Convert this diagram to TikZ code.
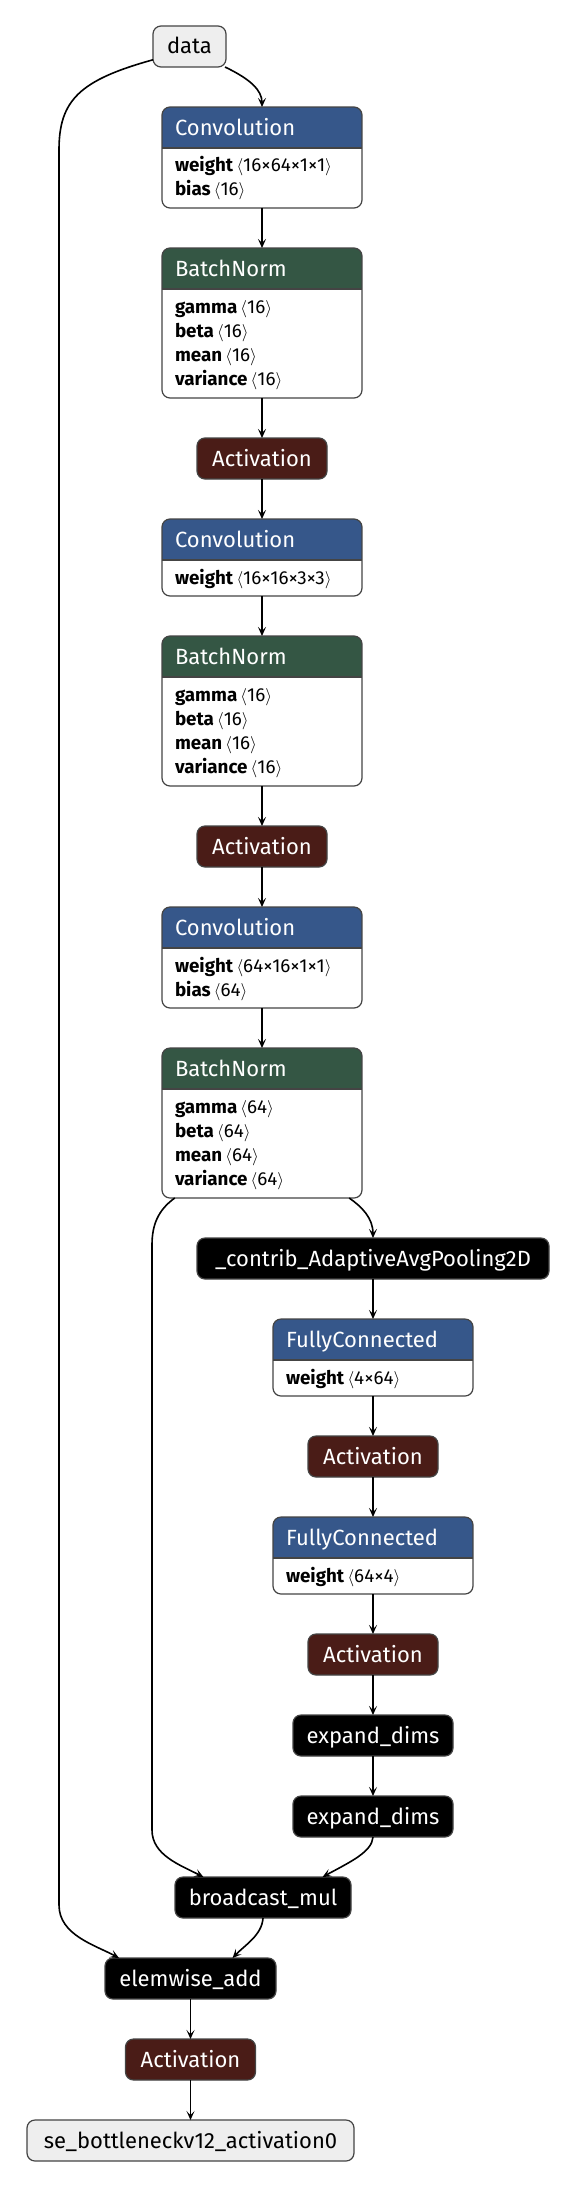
\documentclass[tikz,border=0pt]{standalone}
\usepackage{fontspec}
\setmainfont{Fira Sans}
\usetikzlibrary{arrows.meta}
\usetikzlibrary{positioning}
\usetikzlibrary{backgrounds}

\definecolor{convBlue}{HTML}{36578A}
\definecolor{normGreen}{HTML}{345644}
\definecolor{actRed}{HTML}{4A1C17}
\definecolor{frameGrey}{HTML}{444444}
\definecolor{dataGrey}{HTML}{EEEEEE}

\newcommand{\opParam}[2]{\textbf{#1}\,$\langle$#2$\rangle$}
\newcommand{\firstRow}{\rule{0pt}{17pt}}
\newcommand{\lastRow}{\rule[-5pt]{0pt}{5pt}}

\tikzset{
	op/.style = {rectangle, rounded corners = 8pt, draw = frameGrey, line width = 1.2pt,
		minimum height = 41pt, minimum width = #1, inner sep = 0pt, outer sep = 0pt,
		text height = 15pt, text depth = 0pt, font = \fontsize{22}{24}\selectfont},
	opPlain/.style = {op = #1, fill = black, text = white},
	opAct/.style = {op = 130pt, fill = actRed, text = white},
	opData/.style = {op = #1, fill = dataGrey, text = black},
	recHead/.style = {rectangle, minimum width = 200pt, minimum height = 41pt, text width = 174pt,
		inner xsep = 13pt, inner ysep = 0pt, outer sep = 0pt, align = left, text = white,
		text height = 16pt, text depth = 0pt, font = \fontsize{22}{24}\selectfont},
	recBody/.style = {rectangle, minimum width = 200pt, minimum height = #1, text width = 174pt,
		inner xsep = 13pt, inner ysep = 0pt, outer sep = 0pt, align = left,
		font = \fontsize{18.8}{24}\selectfont},
	frame/.style = {draw = frameGrey, line width = 1.2pt, rounded corners = 8pt},
	link/.style = {-{Stealth[length = 9pt, width = 8pt, inset = 4pt]}, line width = 1.6pt},
}

\begin{document}
\begin{tikzpicture}[x = 1pt, y = -1pt]

	\useasboundingbox (0,0) rectangle (576,2186);

	% main branch
	\node [opData = 73pt] (data) at (189.5,46.5) {data};
	\node [recHead, below = 40pt of data, xshift = 72.5pt] (conv1-head) {Convolution};
	\node [recBody = 60pt, below = 0pt of conv1-head] (conv1)
		{\firstRow\opParam{weight}{16×64×1×1}\\\opParam{bias}{16}\lastRow};
	\node [recHead, below = 40pt of conv1] (bn1-head) {BatchNorm};
	\node [recBody = 109pt, below = 0pt of bn1-head] (bn1)
		{\firstRow\opParam{gamma}{16}\\\opParam{beta}{16}\\\opParam{mean}{16}\\\opParam{variance}{16}\lastRow};
	\node [opAct, below = 40pt of bn1] (act1) {Activation};
	\node [recHead, below = 40pt of act1] (conv2-head) {Convolution};
	\node [recBody = 36pt, below = 0pt of conv2-head] (conv2)
		{\firstRow\opParam{weight}{16×16×3×3}\lastRow};
	\node [recHead, below = 40pt of conv2] (bn2-head) {BatchNorm};
	\node [recBody = 109pt, below = 0pt of bn2-head] (bn2)
		{\firstRow\opParam{gamma}{16}\\\opParam{beta}{16}\\\opParam{mean}{16}\\\opParam{variance}{16}\lastRow};
	\node [opAct, below = 40pt of bn2] (act2) {Activation};
	\node [recHead, below = 40pt of act2] (conv3-head) {Convolution};
	\node [recBody = 60pt, below = 0pt of conv3-head] (conv3)
		{\firstRow\opParam{weight}{64×16×1×1}\\\opParam{bias}{64}\lastRow};
	\node [recHead, below = 40pt of conv3] (bn3-head) {BatchNorm};
	\node [recBody = 109pt, below = 0pt of bn3-head] (bn3)
		{\firstRow\opParam{gamma}{64}\\\opParam{beta}{64}\\\opParam{mean}{64}\\\opParam{variance}{64}\lastRow};

	% squeeze and excite branch
	\node [opPlain = 352pt, below = 40pt of bn3, xshift = 111pt] (pool) {\_contrib\_AdaptiveAvgPooling2D};
	\node [recHead, below = 40pt of pool] (fc1-head) {FullyConnected};
	\node [recBody = 36pt, below = 0pt of fc1-head] (fc1) {\firstRow\opParam{weight}{4×64}\lastRow};
	\node [opAct, below = 40pt of fc1] (act3) {Activation};
	\node [recHead, below = 40pt of act3] (fc2-head) {FullyConnected};
	\node [recBody = 36pt, below = 0pt of fc2-head] (fc2) {\firstRow\opParam{weight}{64×4}\lastRow};
	\node [opAct, below = 40pt of fc2] (act4) {Activation};
	\node [opPlain = 160pt, below = 40pt of act4] (expand1) {expand\_dims};
	\node [opPlain = 160pt, below = 40pt of expand1] (expand2) {expand\_dims};

	% merge
	\node [opPlain = 176pt, below = 40pt of expand2, xshift = -110pt] (bcast) {broadcast\_mul};
	\node [opPlain = 171pt, below = 40pt of bcast, xshift = -72.5pt] (elemAdd) {elemwise\_add};
	\node [opAct, below = 40pt of elemAdd] (act5) {Activation};
	\node [opData = 327pt, below = 40pt of act5] (output) {se\_bottleneckv12\_activation0};

	% fills of the parameter boxes
	\begin{scope}[on background layer]
		\foreach \rec/\tint in {conv1/convBlue, bn1/normGreen, conv2/convBlue, bn2/normGreen,
			conv3/convBlue, bn3/normGreen, fc1/convBlue, fc2/convBlue} {
			\fill [white, rounded corners = 8pt] (\rec-head.north west) rectangle (\rec.south east);
			\begin{scope}
				\clip [rounded corners = 8pt] (\rec-head.north west) rectangle (\rec.south east);
				\fill [\tint] (\rec-head.north west) rectangle (\rec-head.south east);
			\end{scope}
		}
	\end{scope}
	\foreach \rec in {conv1, bn1, conv2, bn2, conv3, bn3, fc1, fc2} {
		\draw [frame] (\rec-head.north west) rectangle (\rec.south east);
		\draw [frame] (\rec-head.south west) -- (\rec-head.south east);
	}

	% bends of the two long edges
	\coordinate (skipTop) at (59,150);
	\coordinate (skipBottom) at (59,1905);
	\coordinate (sideTop) at (152,1245);
	\coordinate (sideBottom) at (152,1830);

	% straight edges
	\foreach \from/\to in {conv1/bn1-head, bn1/act1, act1/conv2-head, conv2/bn2-head, bn2/act2,
		act2/conv3-head, conv3/bn3-head, pool/fc1-head, fc1/act3, act3/fc2-head, fc2/act4,
		act4/expand1, expand1/expand2, elemAdd/act5, act5/output}
		\draw [link] (\from) -- (\to);

	% curved edges
	\draw [link] (data.-30) .. controls (250,79) and (262,90) .. (conv1-head.north);
	\draw [link] (data.-160) .. controls (80,80) and (59,100) .. (skipTop) -- (skipBottom)
		.. controls (59,1935) and (95,1945) .. (elemAdd.164);
	\draw [link] (bn3.212) .. controls (158,1210) and (152,1225) .. (sideTop) -- (sideBottom)
		.. controls (152,1855) and (180,1865) .. (bcast.161);
	\draw [link] (bn3.-32) .. controls (362,1207) and (373,1218) .. (pool.north);
	\draw [link] (expand2.south) .. controls (372,1852) and (350,1862) .. (bcast.19);
	\draw [link] (bcast.south) .. controls (262,1935) and (245,1945) .. (elemAdd.26);

\end{tikzpicture}
\end{document}
